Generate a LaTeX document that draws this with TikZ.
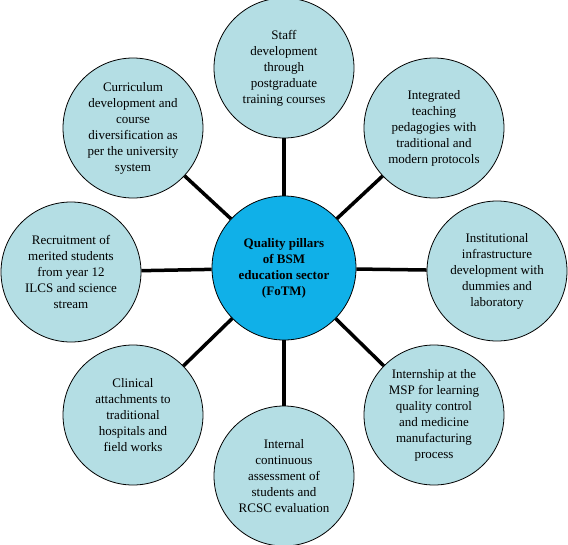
\documentclass[tikz,border=0pt]{standalone}
\usepackage{fontspec}
\setmainfont{Liberation Serif}
\definecolor{pillarfill}{RGB}{180,222,228}
\definecolor{hubfill}{RGB}{16,176,232}
\begin{document}
\begin{tikzpicture}[
                x=1pt, y=-1pt,
                pillar/.style={circle, draw, line width=0.8pt, fill=pillarfill, minimum size=140pt,
                    inner sep=0pt, align=center, font=\fontsize{13}{16}\selectfont},
                hub/.style={pillar, fill=hubfill, minimum size=144pt, font=\fontsize{13}{16}\selectfont\bfseries},
                every edge/.style={draw, line width=3.5pt}
                ]
            \useasboundingbox (0,0) rectangle (568,544);
            % Nodes
            \node[hub] (q) at (284,268) {Quality pillars\\of BSM\\education sector\\(FoTM)};
            \node[pillar] (staff) at (284,68) {Staff\\development\\through\\postgraduate\\training courses};
            \node[pillar] (integ) at (434,128) {Integrated\\teaching\\pedagogies with\\traditional and\\modern protocols};
            \node[pillar] (infra) at (497,271) {Institutional\\infrastructure\\development with\\dummies and\\laboratory};
            \node[pillar] (intern) at (434,415) {Internship at the\\MSP for learning\\quality control\\and medicine\\manufacturing\\process};
            \node[pillar] (assess) at (284,476) {Internal\\continuous\\assessment of\\students and\\RCSC evaluation};
            \node[pillar] (clin) at (133,415) {Clinical\\attachments to\\traditional\\hospitals and\\field works};
            \node[pillar] (recr) at (71,272) {Recruitment of\\merited students\\from year 12\\ILCS and science\\stream};
            \node[pillar] (curr) at (133,128) {Curriculum\\development and\\course\\diversification as\\per the university\\system};
            % Edges
            \path
            (q) edge (staff)
            (q) edge (integ)
            (q) edge (infra)
            (q) edge (intern)
            (q) edge (assess)
            (q) edge (clin)
            (q) edge (recr)
            (q) edge (curr);

            \end{tikzpicture}
\end{document}
